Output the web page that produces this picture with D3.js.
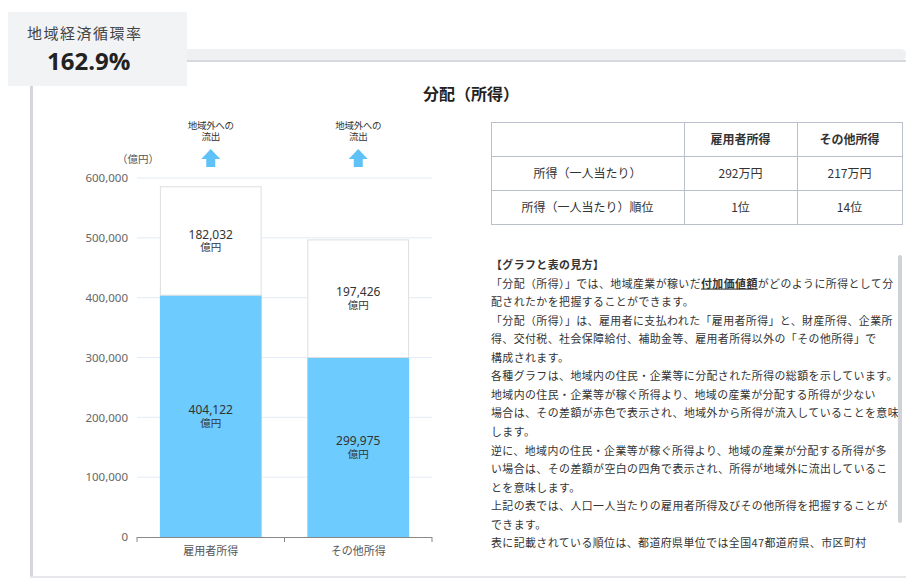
<!DOCTYPE html>
<html>
<head>
<meta charset="utf-8">
<script src="https://cdn.jsdelivr.net/npm/d3@7"></script>
<style>
  body { margin: 0; background: #fff; }
  svg { display: block; font-family: "Noto Sans CJK JP", "Noto Sans", sans-serif; }
</style>
</head>
<body>
<div id="chart"></div>
<script>
// chart data
const categories = ["雇用者所得", "その他所得"];
const incomeValues = [404122, 299975];     // blue part (億円)
const outflowValues = [182032, 197426];    // white box = 地域外への流出
const yTicks = [0, 100000, 200000, 300000, 400000, 500000, 600000];

// badge
const badgeLabel = "地域経済循環率";
const badgeValue = "162.9%";

// table
const tableHeaders = ["", "雇用者所得", "その他所得"];
const tableRowLabels = ["所得（一人当たり）", "所得（一人当たり）順位"];
const tableValues = [["292万円", "217万円"], ["1位", "14位"]];

// explanation text, one entry per line (segments with bold flag)
const noteLines = [
  [{ t: "【グラフと表の見方】", b: true }],
  [{ t: "「分配（所得）」では、地域産業が稼いだ" }, { t: "付加価値額", b: true, u: true }, { t: "がどのように所得として分" }],
  [{ t: "配されたかを把握することができます。" }],
  [{ t: "「分配（所得）」は、雇用者に支払われた「雇用者所得」と、財産所得、企業所" }],
  [{ t: "得、交付税、社会保障給付、補助金等、雇用者所得以外の「その他所得」で" }],
  [{ t: "構成されます。" }],
  [{ t: "各種グラフは、地域内の住民・企業等に分配された所得の総額を示しています。" }],
  [{ t: "地域内の住民・企業等が稼ぐ所得より、地域の産業が分配する所得が少ない" }],
  [{ t: "場合は、その差額が赤色で表示され、地域外から所得が流入していることを意味" }],
  [{ t: "します。" }],
  [{ t: "逆に、地域内の住民・企業等が稼ぐ所得より、地域の産業が分配する所得が多" }],
  [{ t: "い場合は、その差額が空白の四角で表示され、所得が地域外に流出しているこ" }],
  [{ t: "とを意味します。" }],
  [{ t: "上記の表では、人口一人当たりの雇用者所得及びその他所得を把握することが" }],
  [{ t: "できます。" }],
  [{ t: "表に記載されている順位は、都道府県単位では全国47都道府県、市区町村" }]
];

const width = 907, height = 578;
const blue = "#6dcbfe";

const svg = d3.select("#chart").append("svg")
  .attr("width", width)
  .attr("height", height);

// panel frame
svg.append("rect").attr("x", 30).attr("y", 50).attr("width", 876).attr("height", 527).attr("fill", "#fff");
svg.append("rect").attr("x", 30).attr("y", 49).attr("width", 876).attr("height", 12).attr("rx", 5).attr("fill", "#eef0f2");
svg.append("rect").attr("x", 30).attr("y", 60).attr("width", 876).attr("height", 2).attr("fill", "#d6d9dd");
svg.append("rect").attr("x", 30).attr("y", 60).attr("width", 3).attr("height", 518).attr("fill", "#d3d6da");
svg.append("rect").attr("x", 30).attr("y", 576).attr("width", 876).attr("height", 2).attr("fill", "#e6e8eb");

// badge
svg.append("rect").attr("x", 8).attr("y", 12).attr("width", 179).attr("height", 74).attr("fill", "#f1f3f5");
svg.append("text").attr("x", 27).attr("y", 39)
  .attr("font-size", 15).attr("letter-spacing", 1.5).attr("fill", "#444")
  .text(badgeLabel);
svg.append("text").attr("x", 47).attr("y", 70)
  .attr("font-family", "'Open Sans', sans-serif")
  .attr("font-size", 24).attr("font-weight", "bold").attr("fill", "#222")
  .text(badgeValue);

// title
svg.append("text").attr("x", 471).attr("y", 100)
  .attr("text-anchor", "middle").attr("font-size", 16).attr("font-weight", "bold").attr("fill", "#222")
  .text("分配（所得）");

// scales
const margin = { left: 137, right: 432, top: 178, bottom: 537 };
const y = d3.scaleLinear().domain([0, 600000]).range([margin.bottom, margin.top]);
const x = d3.scaleBand().domain(categories).range([margin.left, margin.right])
  .paddingInner(0.31).paddingOuter(0.155);

// gridlines
svg.append("g").selectAll("line")
  .data(yTicks.filter(d => d > 0))
  .join("line")
  .attr("x1", margin.left).attr("x2", margin.right)
  .attr("y1", d => y(d)).attr("y2", d => y(d))
  .attr("stroke", "#e3ebf6");

// y axis labels
const yAxis = svg.append("g")
  .attr("transform", `translate(${margin.left},0)`)
  .call(d3.axisLeft(y).tickValues(yTicks).tickFormat(d3.format(",")).tickSize(0).tickPadding(9));
yAxis.select(".domain").remove();
yAxis.selectAll("text").attr("fill", "#666").attr("font-size", 11.5).attr("font-family", "'Noto Sans', sans-serif");

svg.append("text").attr("x", 117).attr("y", 163)
  .attr("font-size", 10.5).attr("fill", "#555").text("（億円）");

// bars - blue part
svg.append("g").selectAll("rect")
  .data(categories)
  .join("rect")
  .attr("x", d => x(d))
  .attr("width", x.bandwidth())
  .attr("y", (d, i) => y(incomeValues[i]))
  .attr("height", (d, i) => y(0) - y(incomeValues[i]))
  .attr("fill", blue);

// bars - outflow white box
svg.append("g").selectAll("rect")
  .data(categories)
  .join("rect")
  .attr("x", d => x(d) + 0.5)
  .attr("width", x.bandwidth() - 1)
  .attr("y", (d, i) => y(incomeValues[i] + outflowValues[i]) + 0.5)
  .attr("height", (d, i) => y(incomeValues[i]) - y(incomeValues[i] + outflowValues[i]) - 0.5)
  .attr("fill", "#fff")
  .attr("stroke", "#dedede");

// value labels
function addLabel(cx, cy, v) {
  const t = svg.append("text").attr("text-anchor", "middle").attr("fill", "#333");
  t.append("tspan").attr("x", cx).attr("y", cy - 2)
    .attr("font-family", "'Noto Sans', sans-serif").attr("font-size", 12)
    .text(d3.format(",")(v));
  t.append("tspan").attr("x", cx).attr("y", cy + 10.5).attr("font-size", 10.5).text("億円");
}
categories.forEach((c, i) => {
  const cx = x(c) + x.bandwidth() / 2;
  addLabel(cx, (y(0) + y(incomeValues[i])) / 2, incomeValues[i]);
  addLabel(cx, (y(incomeValues[i]) + y(incomeValues[i] + outflowValues[i])) / 2, outflowValues[i]);

  // outflow arrow + note
  const top = y(600000);
  const g = svg.append("g");
  g.append("path")
    .attr("d", `M${cx - 9.5},${top - 19} L${cx},${top - 29} L${cx + 9.5},${top - 19} L${cx + 4.5},${top - 19} L${cx + 4.5},${top - 11} L${cx - 4.5},${top - 11} L${cx - 4.5},${top - 19} Z`)
    .attr("fill", "#5ec2f8");
  const t = g.append("text").attr("text-anchor", "middle").attr("font-size", 9.5).attr("fill", "#333")
    .attr("letter-spacing", -0.3);
  t.append("tspan").attr("x", cx).attr("y", top - 49).text("地域外への");
  t.append("tspan").attr("x", cx).attr("y", top - 38).text("流出");
});

// x axis
const axisG = svg.append("g").attr("stroke", "#888");
axisG.append("line").attr("x1", margin.left).attr("x2", margin.right)
  .attr("y1", y(0) + 0.5).attr("y2", y(0) + 0.5);
const boundaries = [margin.left, margin.left + x.step(), margin.right];
axisG.selectAll(".tick").data(boundaries).join("line")
  .attr("x1", d => d).attr("x2", d => d)
  .attr("y1", y(0)).attr("y2", y(0) + 5);
svg.append("g").selectAll("text")
  .data(categories)
  .join("text")
  .attr("x", d => x(d) + x.bandwidth() / 2)
  .attr("y", y(0) + 18)
  .attr("text-anchor", "middle")
  .attr("font-size", 11).attr("fill", "#555")
  .text(d => d);

// table
const colX = [491, 684, 797, 902];
const rowY = [122, 156, 190, 224];
const tbl = svg.append("g");
for (let r = 0; r < 3; r++) {
  for (let c = 0; c < 3; c++) {
    tbl.append("rect")
      .attr("x", colX[c] + 0.5).attr("y", rowY[r] + 0.5)
      .attr("width", colX[c + 1] - colX[c]).attr("height", rowY[r + 1] - rowY[r])
      .attr("fill", "#fff").attr("stroke", "#b9bfcb");
    let txt, bold = false;
    if (r === 0) { txt = tableHeaders[c]; bold = true; }
    else if (c === 0) txt = tableRowLabels[r - 1];
    else txt = tableValues[r - 1][c - 1];
    tbl.append("text")
      .attr("x", (colX[c] + colX[c + 1]) / 2)
      .attr("y", (rowY[r] + rowY[r + 1]) / 2 + 4.5)
      .attr("text-anchor", "middle")
      .attr("font-size", 12)
      .attr("font-weight", bold ? "bold" : "normal")
      .attr("fill", "#333")
      .text(txt);
  }
}

// explanation block
const note = svg.append("g");
noteLines.forEach((segs, i) => {
  const t = note.append("text")
    .attr("x", 491).attr("y", 269 + i * 18.55)
    .attr("font-size", 10.9).attr("letter-spacing", 0.45).attr("fill", "#333");
  segs.forEach(s => {
    t.append("tspan")
      .attr("font-weight", s.b ? "bold" : "normal")
      .style("text-decoration", s.u ? "underline" : "none")
      .text(s.t);
  });
});
// scrollbar
svg.append("rect").attr("x", 898).attr("y", 255).attr("width", 4).attr("height", 268)
  .attr("rx", 2).attr("fill", "#cfd3d7");
</script>
</body>
</html>
